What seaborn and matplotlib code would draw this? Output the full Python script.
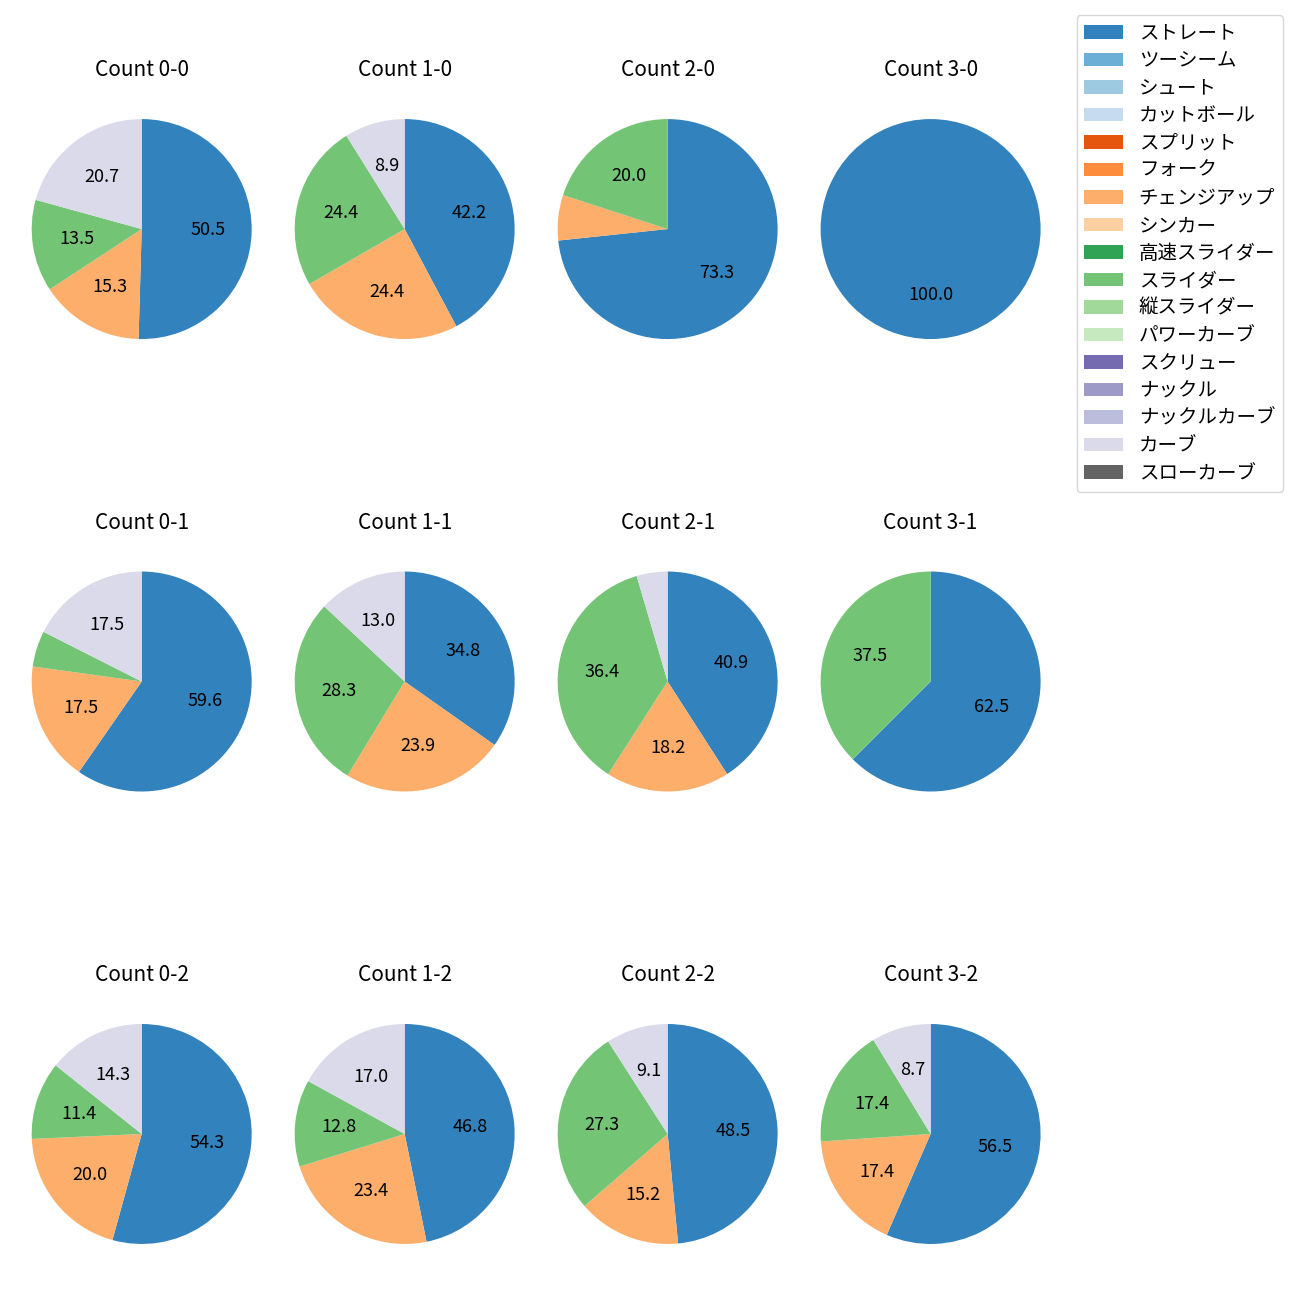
import matplotlib
matplotlib.use("Agg")
import matplotlib.pyplot as plt
import seaborn as sns
import numpy as np
from matplotlib.patches import Patch

sns.set_theme(style="white")
plt.rcParams['font.family'] = ['Noto Sans CJK JP', 'DejaVu Sans']
plt.rcParams['text.color'] = 'black'

pitch_types = ['ストレート', 'ツーシーム', 'シュート', 'カットボール', 'スプリット', 'フォーク',
               'チェンジアップ', 'シンカー', '高速スライダー', 'スライダー', '縦スライダー',
               'パワーカーブ', 'スクリュー', 'ナックル', 'ナックルカーブ', 'カーブ', 'スローカーブ']
palette = sns.color_palette('tab20c', 20)
pitch_colors = palette[:16] + [palette[16]]

counts = ['0-0', '1-0', '2-0', '3-0',
          '0-1', '1-1', '2-1', '3-1',
          '0-2', '1-2', '2-2', '3-2']

# pitches per count: ストレート, チェンジアップ, スライダー, カーブ
straight = [56, 19, 11, 2, 34, 16, 9, 5, 19, 22, 16, 13]
changeup = [17, 11, 1, 0, 10, 11, 4, 0, 7, 11, 5, 4]
slider   = [15, 11, 3, 0, 3, 13, 8, 3, 4, 6, 9, 4]
curve    = [23, 4, 0, 0, 10, 6, 1, 0, 5, 8, 3, 2]

used = ['ストレート', 'チェンジアップ', 'スライダー', 'カーブ']
series = [straight, changeup, slider, curve]

fig, axes = plt.subplots(3, 4, figsize=(13, 13), dpi=100)
fig.subplots_adjust(left=0.01285, right=0.812, wspace=0.052,
                    top=0.9392, bottom=0.0123, hspace=0.508)

def fmt(p):
    return f'{p:.1f}' if p >= 8 else ''

for i, ax in enumerate(axes.flat):
    vals = [s[i] for s in series]
    cols = [pitch_colors[pitch_types.index(n)] for n in used]
    v2 = [v for v in vals if v > 0]
    c2 = [c for v, c in zip(vals, cols) if v > 0]
    ax.pie(v2, colors=c2, startangle=90, counterclock=False,
           autopct=fmt, radius=1.1, textprops={'fontsize': 13, 'color': 'black'},
           wedgeprops={'linewidth': 0, 'edgecolor': 'none'})
    ax.set_title(f'Count {counts[i]}', fontsize=15, pad=20, color='black')

handles = [Patch(facecolor=c, edgecolor='none', label=n) for n, c in zip(pitch_types, pitch_colors)]
leg = fig.legend(handles=handles, loc='upper right', bbox_to_anchor=(1283 / 1300, 1 - 15 / 1300),
                 fontsize=14, frameon=True, borderaxespad=0, labelspacing=0.335)
for t in leg.get_texts():
    t.set_color('black')

fig.savefig('out.png', dpi=100)
